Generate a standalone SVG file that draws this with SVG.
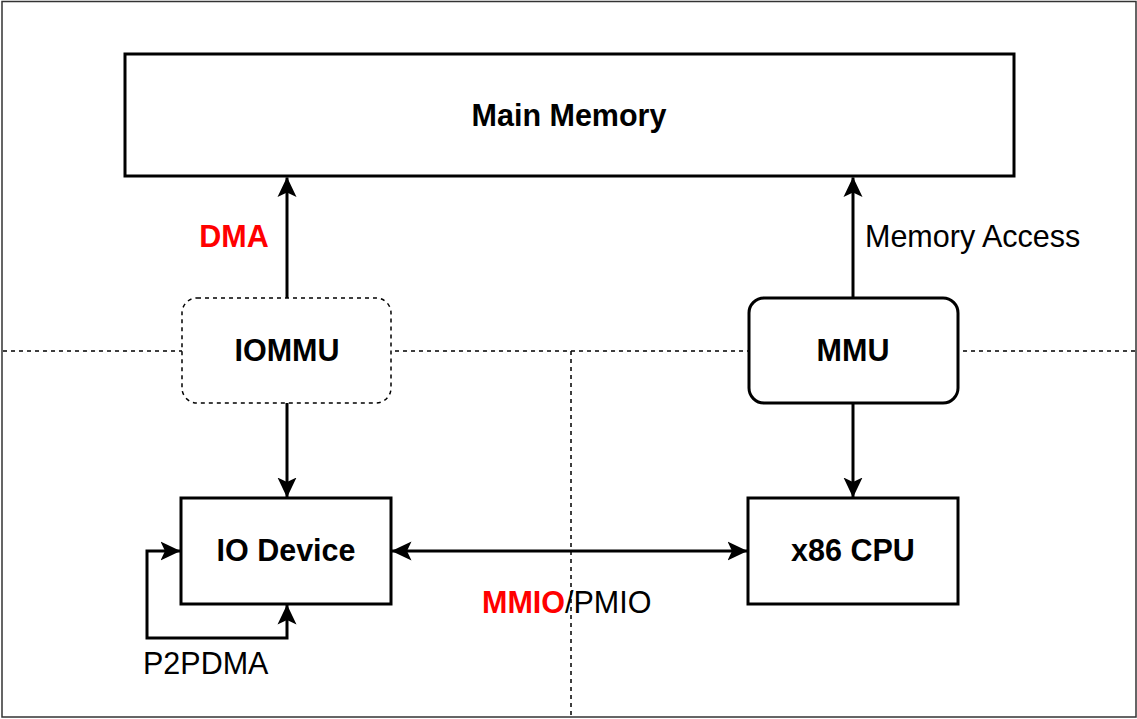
<svg xmlns="http://www.w3.org/2000/svg" width="1137" height="719" viewBox="0 0 1137 719">
<style>
.box{fill:#fff;stroke:#000;stroke-width:3}
.dash{fill:none;stroke:#000;stroke-width:1.5;stroke-dasharray:4 4}
.conn{fill:none;stroke:#000;stroke-width:3}
.b{font-family:"Liberation Sans",Arial,sans-serif;font-weight:bold;font-size:30.5px;text-anchor:middle}
.n{font-family:"Liberation Sans",Arial,sans-serif;font-size:30.5px}
</style>
<defs>
<marker id="ah" viewBox="0 0 20 20" refX="19.5" refY="10" markerWidth="20" markerHeight="20" markerUnits="userSpaceOnUse" orient="auto-start-reverse">
<path d="M0,0.5 L20,10 L0,19.5 L4.5,10 Z" fill="#000"/>
</marker>
</defs>
<rect x="0" y="0" width="1137" height="719" fill="#fff"/>
<rect x="2" y="1.5" width="1134" height="715.5" fill="none" stroke="#333" stroke-width="1.5"/>
<g id="guides">
<line class="dash" x1="3" y1="351" x2="1136" y2="351"/>
<line class="dash" x1="571" y1="351" x2="571" y2="716"/>
</g>
<g id="connectors">
<line class="conn" x1="287" y1="298" x2="287" y2="177.5" marker-end="url(#ah)"/>
<line class="conn" x1="853" y1="298" x2="853" y2="177.5" marker-end="url(#ah)"/>
<line class="conn" x1="287" y1="403" x2="287" y2="497" marker-end="url(#ah)"/>
<line class="conn" x1="853" y1="403" x2="853" y2="497" marker-end="url(#ah)"/>
<line class="conn" x1="392" y1="551" x2="747" y2="551" marker-start="url(#ah)" marker-end="url(#ah)"/>
<path class="conn" d="M180,551 L147,551 L147,638 L287,638 L287,605" marker-start="url(#ah)" marker-end="url(#ah)"/>
<text class="b" x="234" y="247" fill="#f00">DMA</text>
<text class="n" x="865" y="247">Memory Access</text>
<text class="n" x="482" y="613"><tspan font-weight="bold" fill="#f00">MMIO</tspan>/PMIO</text>
<text class="n" x="143" y="674">P2PDMA</text>
</g>
<g id="main-memory">
<rect class="box" x="125" y="54" width="889" height="122"/>
<text class="b" x="569" y="126">Main Memory</text>
</g>
<g id="iommu">
<rect x="182" y="298" width="209" height="105" rx="15" fill="#fff" stroke="#000" stroke-width="1.5" stroke-dasharray="4 4"/>
<text class="b" x="287" y="361">IOMMU</text>
</g>
<g id="mmu">
<rect class="box" x="749" y="298" width="209" height="105" rx="15"/>
<text class="b" x="853" y="361">MMU</text>
</g>
<g id="io-device">
<rect class="box" x="181" y="498" width="210" height="106"/>
<text class="b" x="286" y="561">IO Device</text>
</g>
<g id="x86-cpu">
<rect class="box" x="748" y="498" width="210" height="106"/>
<text class="b" x="853" y="561">x86 CPU</text>
</g>
</svg>
